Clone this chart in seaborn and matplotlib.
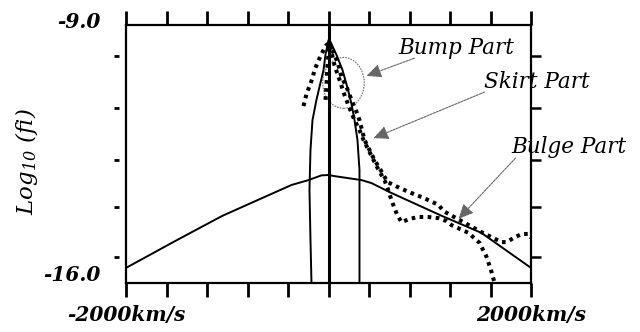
import matplotlib
matplotlib.use("Agg")
import matplotlib.pyplot as plt
from matplotlib.patches import Ellipse
from matplotlib.transforms import ScaledTranslation
import pandas as pd
import seaborn as sns

# ---- data: velocity (km/s) and log10 of the distribution function ----
bulge_v = [-2000, -1500, -1050, -700, -365, -200, -70, 0, 60, 330, 425, 600, 1120, 1510, 2000]
bulge_logf = [-15.59, -14.84, -14.18, -13.75, -13.34, -13.21, -13.08, -13.07, -13.10,
              -13.21, -13.29, -13.53, -14.18, -14.64, -15.59]

bump_v = [-168, -178, -188, -178, -158, -119, -89, -49, -30, 0,
          20, 79, 138, 188, 227, 257, 286, 296, 306, 306]
bump_logf = [-16.0, -14.83, -13.48, -12.39, -11.58, -11.03, -10.68, -10.22, -9.81, -9.41,
             -9.46, -9.81, -10.22, -10.71, -11.14, -11.58, -12.12, -12.53, -12.93, -16.0]

obs_a_v = [-30, -20, -10, 10, 49, 89, 128, 178, 227, 277, 306, 356, 405, 454, 514, 583,
           701, 820, 938, 1086, 1136, 1314, 1511, 1709, 1758, 1827, 1906, 1975, 2005]
obs_a_logf = [-11.03, -10.63, -10.09, -9.49, -9.76, -10.00, -10.41, -10.68, -11.03, -11.36,
              -11.58, -12.12, -12.39, -12.66, -12.93, -13.26, -13.42, -13.56, -13.69, -13.88,
              -14.05, -14.32, -14.62, -14.89, -14.89, -14.78, -14.67, -14.67, -14.78]

obs_b_v = [-247, -217, -188, -158, -138, -109, -79, -49, -20, 10, 59, 109, 158, 207, 257,
           306, 346, 395, 444, 494, 553, 583, 622, 652, 680, 721, 800, 889, 988, 1086,
           1165, 1215, 1383, 1491, 1561, 1610, 1640]
obs_b_logf = [-11.20, -10.87, -10.66, -10.44, -10.22, -10.03, -9.84, -9.68, -9.54, -9.49,
              -10.09, -10.49, -10.90, -11.25, -11.58, -11.85, -12.12, -12.39, -12.66, -12.93,
              -13.21, -13.42, -13.75, -13.97, -14.16, -14.35, -14.26, -14.21, -14.21, -14.24,
              -14.32, -14.43, -14.64, -14.91, -15.29, -15.70, -16.0]

x_ticks = [-2000, -1600, -1200, -800, -400, 0, 400, 800, 1200, 1600, 2000]
x_tick_labels = ["-2000km/s", "", "", "", "", "", "", "", "", "", "2000km/s"]
y_ticks = [-9.0, -16.0]
y_tick_labels = ["-9.0", "-16.0"]
y_minor_ticks = [-9.85, -11.25, -12.65, -13.95, -15.3]

parts = ["Bump Part", "Skirt Part", "Bulge Part"]
part_text_xy = [(691, -9.62), (1531, -10.55), (1807, -12.31)]
part_arrow_from = [(849, -9.90), (1541, -10.82), (1847, -12.61)]
part_arrow_to = [(375, -10.38), (444, -12.07), (1284, -14.26)]

# ---- style ----
sns.set_style("white")
plt.rcParams["font.family"] = ["DejaVu Serif"]
plt.rcParams["font.style"] = "italic"
plt.rcParams["font.weight"] = "bold"
plt.rcParams["mathtext.default"] = "regular"
for key in ("text.color", "axes.labelcolor", "xtick.color", "ytick.color",
            "xtick.labelcolor", "ytick.labelcolor", "axes.edgecolor"):
    plt.rcParams[key] = "black"

fig = plt.figure(figsize=(6.4, 3.32), dpi=100)
ax = fig.add_axes([126 / 640, 49 / 332, 405 / 640, 258 / 332])

dotted = dict(linestyle=(0, (0.9, 1.1)), linewidth=2.9, dash_capstyle="butt", color="black")
solid = dict(linewidth=1.4, color="black")

sns.lineplot(data=pd.DataFrame({"v": bulge_v, "logf": bulge_logf}), x="v", y="logf",
             sort=False, estimator=None, ax=ax, **solid)
sns.lineplot(data=pd.DataFrame({"v": bump_v, "logf": bump_logf}), x="v", y="logf",
             sort=False, estimator=None, ax=ax, **solid)
sns.lineplot(data=pd.DataFrame({"v": obs_a_v, "logf": obs_a_logf}), x="v", y="logf",
             sort=False, estimator=None, ax=ax, **dotted)
sns.lineplot(data=pd.DataFrame({"v": obs_b_v, "logf": obs_b_logf}), x="v", y="logf",
             sort=False, estimator=None, ax=ax, **dotted)
ax.axvline(0, color="black", linewidth=2.2)

# circle marking the bump region
ax.add_patch(Ellipse((148, -10.57), 410, 1.38, fill=False, edgecolor="#707070",
                     linewidth=0.8, linestyle=(0, (1.5, 1))))

ax.set_xlim(-2000, 2000)
ax.set_ylim(-16, -9)
ax.set_xlabel("")
ax.set_ylabel("Log$_{10}$ (fi)", fontsize=16.5, color="black")
ax.yaxis.set_label_coords(-0.212, 0.47)

for s in ax.spines.values():
    s.set_visible(True)
    s.set_linewidth(1.6)
    s.set_color("black")

ax.set_xticks(x_ticks, x_tick_labels)
ax.tick_params(axis="x", which="major", top=True, bottom=True, direction="out",
               length=10, width=2.0, labelsize=14.5, pad=6, colors="black")
ax.set_yticks(y_ticks, y_tick_labels)
ax.set_yticks(y_minor_ticks, minor=True)
ax.tick_params(axis="y", which="major", left=False, right=False, length=0,
               labelsize=14.5, pad=18, labelcolor="black")
ax.tick_params(axis="y", which="minor", left=False, right=True, direction="out",
               length=7.5, width=1.8, color="black")

# baseline-aligned end labels, nudged slightly toward the plot interior
nudges_pt = [-2.0, 1.5]
for lab, dy in zip(ax.get_yticklabels(), nudges_pt):
    lab.set_verticalalignment("baseline")
    lab.set_transform(lab.get_transform() + ScaledTranslation(0, dy / 72, fig.dpi_scale_trans))

# short detached ticks on the left side
sec = ax.secondary_yaxis(-7 / 405)
sec.spines["left"].set_visible(False)
sec.set_yticks(y_minor_ticks, [""] * len(y_minor_ticks))
sec.tick_params(axis="y", which="major", direction="out", length=3.8, width=2.0,
                color="black")
sec.tick_params(axis="y", which="minor", length=0)

# part annotations
for name, txy, a0, a1 in zip(parts, part_text_xy, part_arrow_from, part_arrow_to):
    ax.annotate("", xy=a1, xytext=a0,
                arrowprops=dict(arrowstyle="-|>,head_length=0.75,head_width=0.35",
                                mutation_scale=12, color="#666666", linewidth=0.8,
                                linestyle=(0, (2, 1)), shrinkA=0, shrinkB=0),
                annotation_clip=False)
    ax.text(txy[0], txy[1], name, ha="left", va="center", fontsize=15.5,
            style="italic", weight="normal", color="black", clip_on=False)

fig.savefig("out.png", dpi=100, facecolor="white")
